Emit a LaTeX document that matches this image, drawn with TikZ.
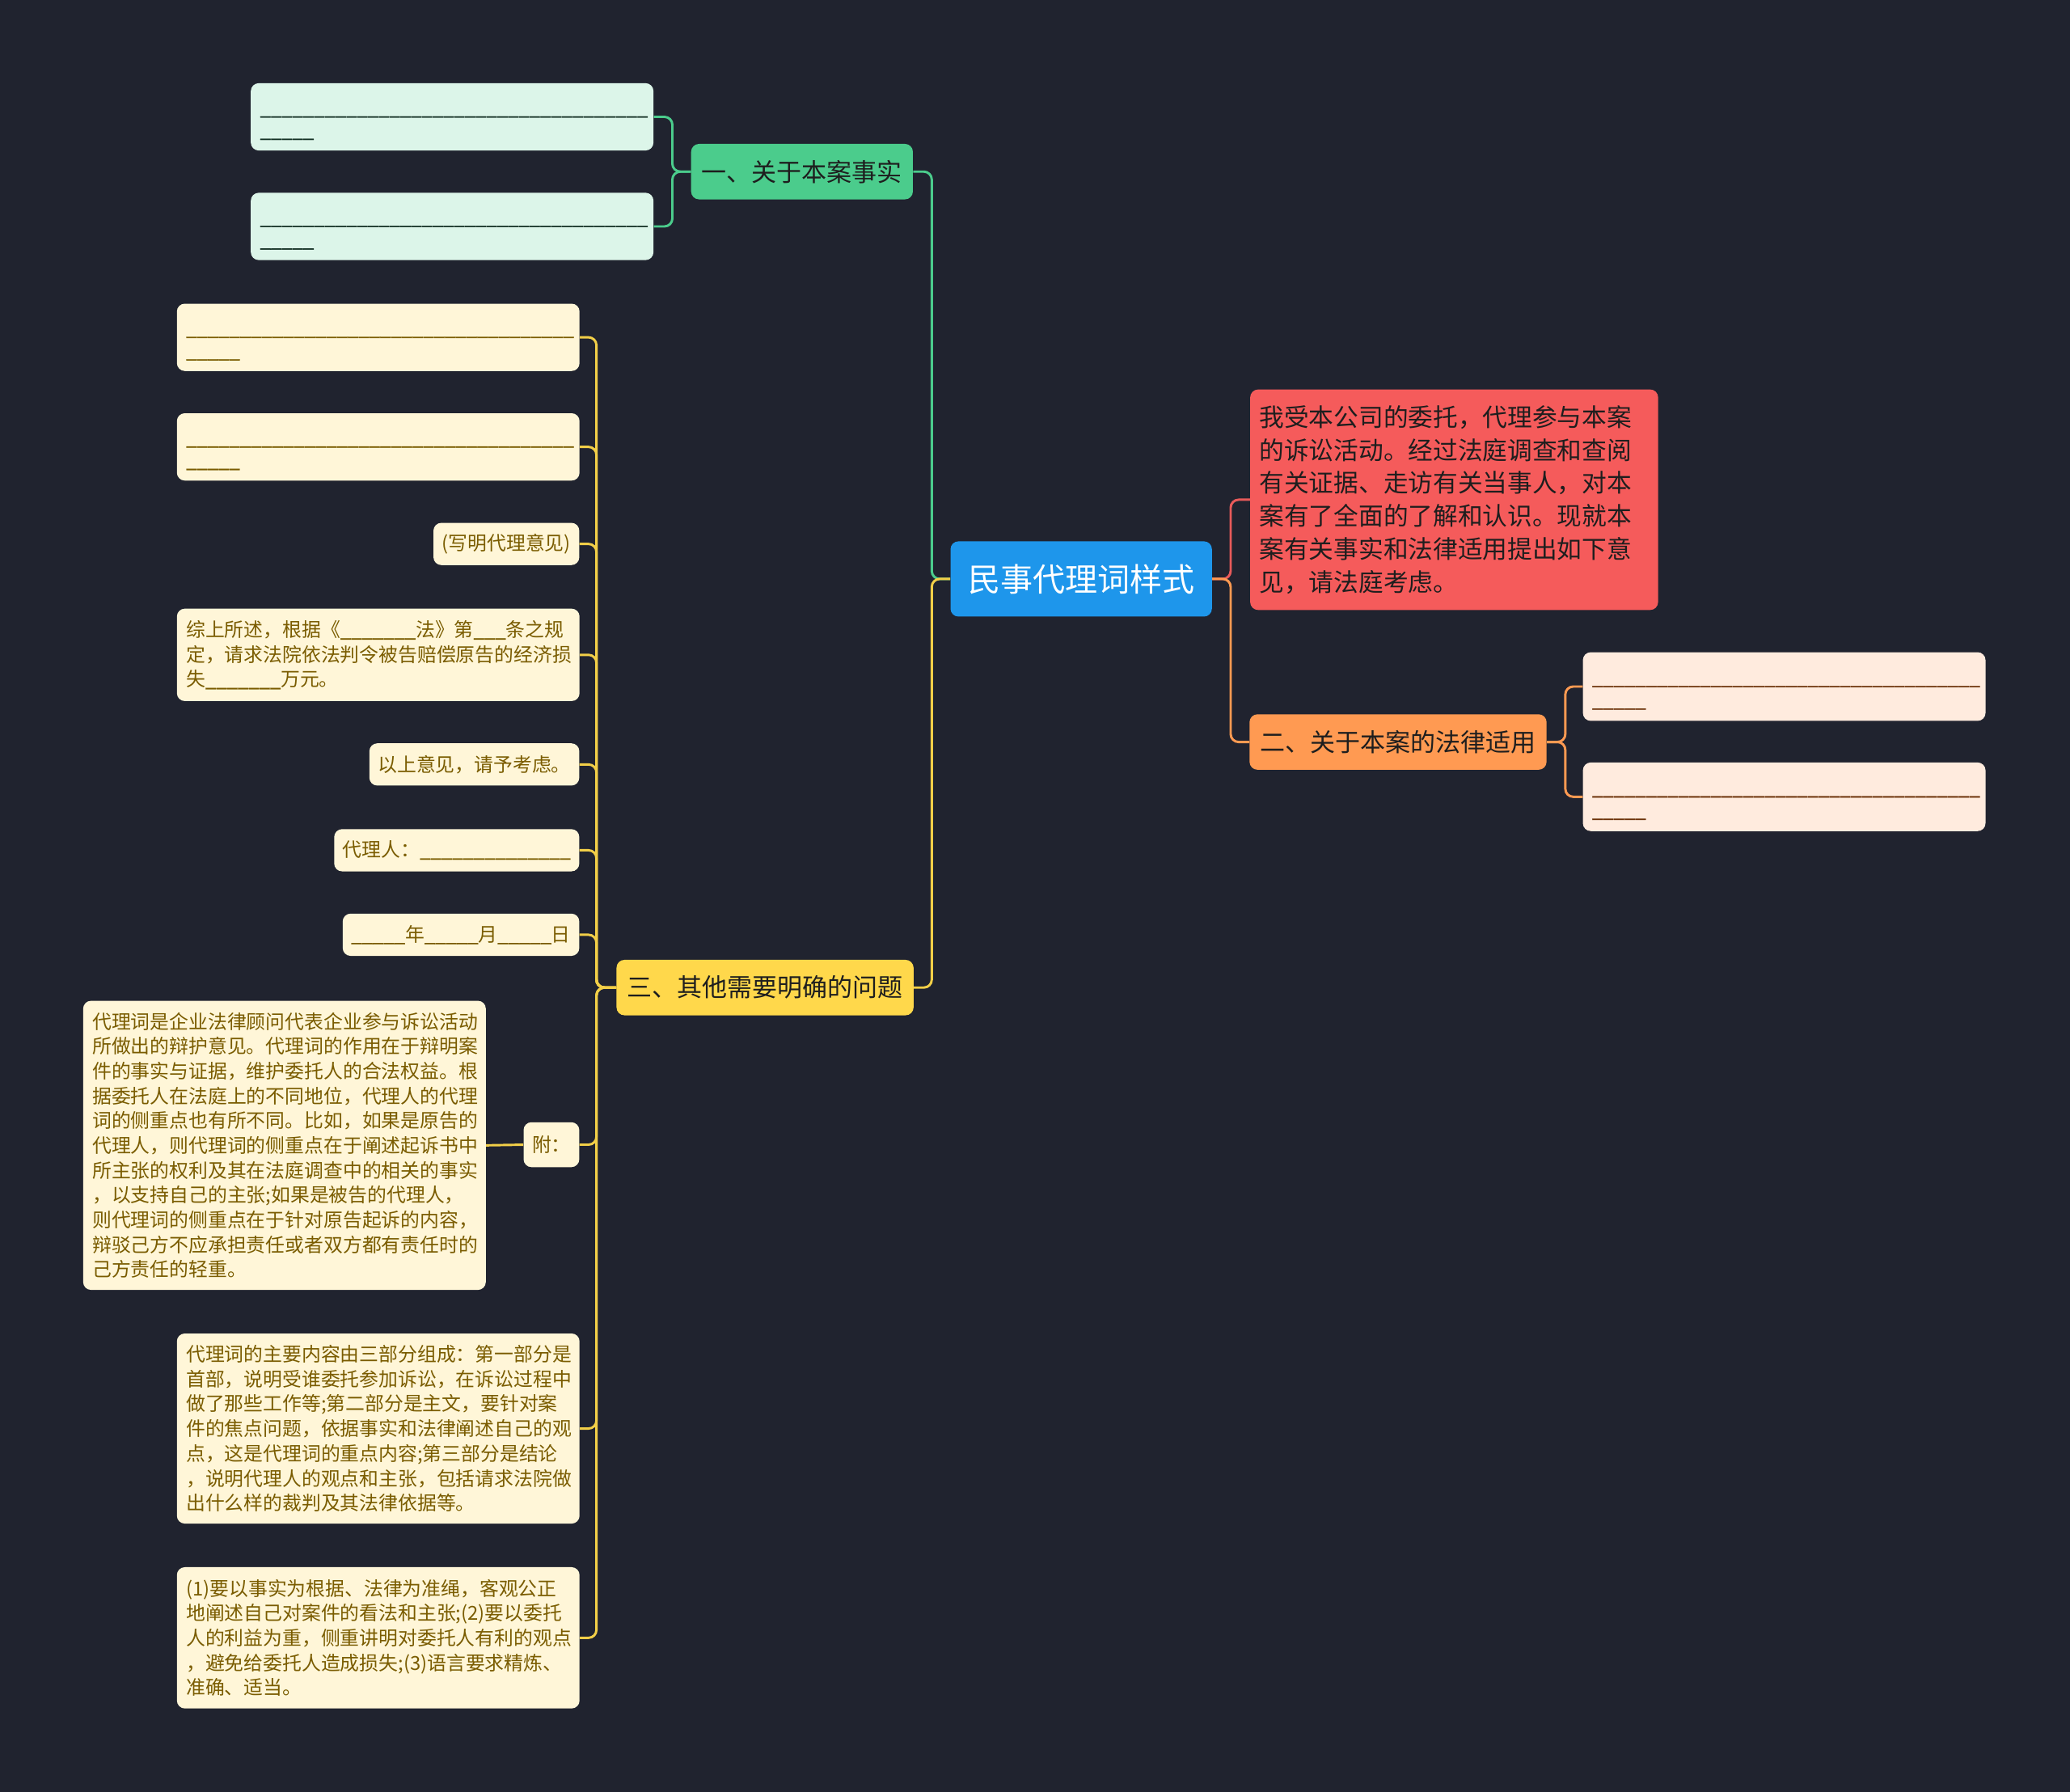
\documentclass[tikz,border=0pt]{standalone}
\usepackage{fontspec}
\setmainfont{Noto Sans CJK SC}
\newfontfamily\usfont[FakeBold=1.2]{Noto Sans CJK SC}
\definecolor{bg}{HTML}{20232F}
\definecolor{cgreen}{HTML}{4BCC8C}
\definecolor{cgreenleaf}{HTML}{DCF5E9}
\definecolor{cgreentext}{HTML}{163226}
\definecolor{cblue}{HTML}{1E96EB}
\definecolor{cred}{HTML}{F55B5B}
\definecolor{credline}{HTML}{E85A5A}
\definecolor{corange}{HTML}{FF9A52}
\definecolor{corangeleaf}{HTML}{FFEBDE}
\definecolor{corangetext}{HTML}{6E350C}
\definecolor{cyellow}{HTML}{FFD84B}
\definecolor{cyellowleaf}{HTML}{FFF6D8}
\definecolor{cyellowtext}{HTML}{7A5C00}
\definecolor{cyellowline}{HTML}{F2CF48}
\definecolor{cdark}{HTML}{1E1E1E}
\tikzset{
  boxbase/.style={rounded corners=6pt, inner ysep=0pt, inner xsep=7pt, align=left},
  rootbox/.style={boxbase, fill=cblue, text=white, font=\fontsize{24.5pt}{30pt}\selectfont, minimum width=198pt, minimum height=57pt, align=center},
  redbox/.style={boxbase, fill=cred, text=cdark, font=\fontsize{18.8pt}{25pt}\selectfont, text width=295pt, minimum height=167pt},
  branchbox/.style={boxbase, text=cdark, font=\fontsize{19pt}{24pt}\selectfont, minimum height=42pt, inner xsep=8pt, align=center},
  gleaf/.style={boxbase, fill=cgreenleaf, text=cgreentext, font=\fontsize{14.6pt}{17pt}\selectfont, text width=291pt, minimum height=51pt},
  oleaf/.style={boxbase, fill=corangeleaf, text=corangetext, font=\fontsize{14.6pt}{17pt}\selectfont, text width=291pt, minimum height=52pt},
  yleaf/.style={boxbase, fill=cyellowleaf, text=cyellowtext, font=\fontsize{14.6pt}{18.8pt}\selectfont, text width=291pt},
  yshort/.style={boxbase, fill=cyellowleaf, text=cyellowtext, font=\fontsize{14.6pt}{18.8pt}\selectfont, minimum height=32pt, anchor=east, inner xsep=6.5pt},
  conn/.style={line width=1.8pt, rounded corners=6pt},
}
\newcommand{\us}[1]{{\usfont\foreach \i in {1,...,#1}{\_}}}
\newcommand{\blanklines}{\rule{0pt}{16pt}\us{36}\\\us{5}}
\begin{document}
\begin{tikzpicture}[x=1pt,y=-1pt]
\fill[bg] (0,0) rectangle (1568,1357);
\useasboundingbox (0,0) rectangle (1568,1357);

% root
\node[rootbox] (root) at (819,438.5) {民事代理词样式};

% red node
\node[redbox] (red) at (1101.5,378.5) {我受本公司的委托，代理参与本案\\的诉讼活动。经过法庭调查和查阅\\有关证据、走访有关当事人，对本\\案有了全面的了解和认识。现就本\\案有关事实和法律适用提出如下意\\见，请法庭考虑。};

% green branch
\node[branchbox, fill=cgreen, minimum width=167pt] (gb) at (607.5,130) {一、关于本案事实};
\node[gleaf] (g1) at (342.5,88.5) {\blanklines};
\node[gleaf] (g2) at (342.5,171.5) {\blanklines};

% orange branch
\node[branchbox, fill=corange, minimum width=224pt] (ob) at (1059,562) {二、关于本案的法律适用};
\node[oleaf] (o1) at (1351.5,520) {\blanklines};
\node[oleaf] (o2) at (1351.5,603.5) {\blanklines};

% yellow branch
\node[branchbox, fill=cyellow, minimum width=223pt] (yb) at (579.5,748) {三、其他需要明确的问题};
\node[yleaf, minimum height=51pt, font=\fontsize{14.6pt}{17pt}\selectfont] (y1) at (286.5,255.5) {\blanklines};
\node[yleaf, minimum height=51pt, font=\fontsize{14.6pt}{17pt}\selectfont] (y2) at (286.5,338.5) {\blanklines};
\node[yshort] (y3) at (439,412) {(写明代理意见)};
\node[yleaf, minimum height=70pt] (y4) at (286.5,496) {综上所述，根据《\us{7}法》第\us{3}条之规\\定，请求法院依法判令被告赔偿原告的经济损\\失\us{7}万元。};
\node[yshort] (y5) at (439,579) {以上意见，请予考虑。};
\node[yshort] (y6) at (439,644) {代理人：\us{14}};
\node[yshort] (y7) at (439,708) {\us{5}年\us{5}月\us{5}日};
\node[yshort, minimum height=34pt] (y8) at (439,867) {附：};
\node[yleaf, minimum height=219pt] (y8c) at (215.5,867.5) {代理词是企业法律顾问代表企业参与诉讼活动\\所做出的辩护意见。代理词的作用在于辩明案\\件的事实与证据，维护委托人的合法权益。根\\据委托人在法庭上的不同地位，代理人的代理\\词的侧重点也有所不同。比如，如果是原告的\\代理人，则代理词的侧重点在于阐述起诉书中\\所主张的权利及其在法庭调查中的相关的事实\\，以支持自己的主张;如果是被告的代理人，\\则代理词的侧重点在于针对原告起诉的内容，\\辩驳己方不应承担责任或者双方都有责任时的\\己方责任的轻重。};
\node[yleaf, minimum height=144pt] (y9) at (286.5,1082) {代理词的主要内容由三部分组成：第一部分是\\首部，说明受谁委托参加诉讼，在诉讼过程中\\做了那些工作等;第二部分是主文，要针对案\\件的焦点问题，依据事实和法律阐述自己的观\\点，这是代理词的重点内容;第三部分是结论\\，说明代理人的观点和主张，包括请求法院做\\出什么样的裁判及其法律依据等。};
\node[yleaf, minimum height=107pt] (y10) at (286.5,1240.5) {(1)要以事实为根据、法律为准绳，客观公正\\地阐述自己对案件的看法和主张;(2)要以委托\\人的利益为重，侧重讲明对委托人有利的观点\\，避免给委托人造成损失;(3)语言要求精炼、\\准确、适当。};

% connectors
\draw[conn, cgreen] (root.west) -- ++(-14,0) |- (gb.east);
\draw[conn, cyellowline] (root.west) -- ++(-14,0) |- (yb.east);
\draw[conn, credline] (root.east) -- ++(14,0) |- (red.west);
\draw[conn, corange] (root.east) -- ++(14,0) |- (ob.west);
\foreach \n in {g1,g2} \draw[conn, cgreen] (gb.west) -- ++(-14,0) |- (\n.east);
\foreach \n in {o1,o2} \draw[conn, corange] (ob.east) -- ++(14,0) |- (\n.west);
\foreach \n in {y1,y2,y3,y4,y5,y6,y7,y8,y9,y10} \draw[conn, cyellowline] (yb.west) -- ++(-15,0) |- (\n.east);
\draw[conn, cyellowline] (y8.west) -- (y8c.east);
\end{tikzpicture}
\end{document}
